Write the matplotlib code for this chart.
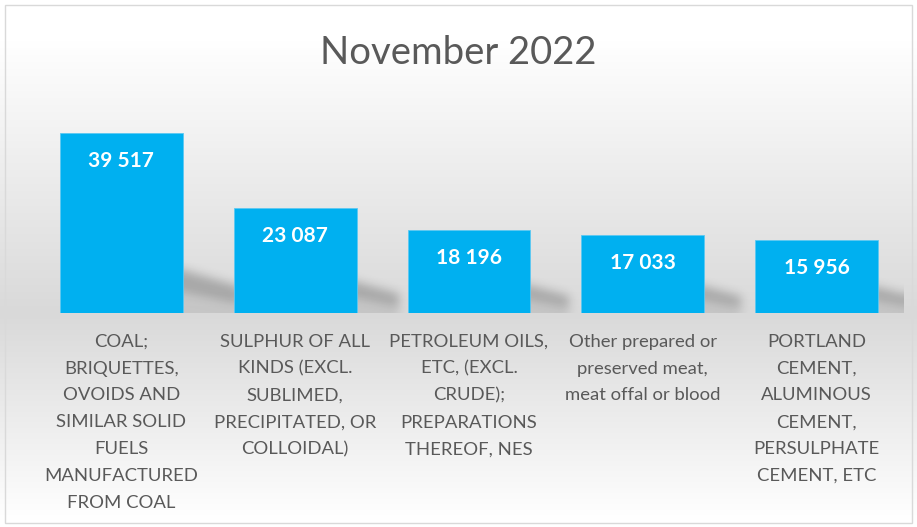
import matplotlib
matplotlib.use("Agg")
import matplotlib.pyplot as plt
import numpy as np
from matplotlib.patches import Rectangle
from matplotlib.path import Path

categories = [
    "COAL;\nBRIQUETTES,\nOVOIDS AND\nSIMILAR SOLID\nFUELS\nMANUFACTURED\nFROM COAL",
    "SULPHUR OF ALL\nKINDS (EXCL.\nSUBLIMED,\nPRECIPITATED, OR\nCOLLOIDAL)",
    "PETROLEUM OILS,\nETC, (EXCL.\nCRUDE);\nPREPARATIONS\nTHEREOF, NES",
    "Other prepared or\npreserved meat,\nmeat offal or blood",
    "PORTLAND\nCEMENT,\nALUMINOUS\nCEMENT,\nPERSULPHATE\nCEMENT, ETC",
]
values = [39517, 23087, 18196, 17033, 15956]
value_labels = ["39 517", "23 087", "18 196", "17 033", "15 956"]
title = "November 2022"

plt.rcParams['font.family'] = ['Lato', 'DejaVu Sans']

W, H = 917, 527
fig = plt.figure(figsize=(W / 100, H / 100), dpi=100)

# background gradient
bg = fig.add_axes([0, 0, 1, 1], zorder=-10)
ys_bg = np.arange(H)
yp = [0, 40, 313, 520, 527]
vp = [255, 255, 217, 255, 255]
col = np.interp(ys_bg, yp, vp) / 255.0
img = np.repeat(col[:, None], 2, axis=1)
img = np.dstack([img, img, img])
bg.imshow(img, aspect='auto', extent=[0, 1, 0, 1], origin='upper')
bg.set_xlim(0, 1); bg.set_ylim(0, 1)
bg.axis('off')
bg.add_patch(Rectangle((4.5 / W, 4 / H), 907 / W, 518 / H, fill=False,
                       ec='#D9D9D9', lw=1.0, transform=bg.transAxes))

# plot axes
base_px = 313
top_px = 108
left_px, right_px = 34.5, 903.5
ax = fig.add_axes([left_px / W, (H - base_px) / H, (right_px - left_px) / W,
                   (base_px - top_px) / H])
ax.set_facecolor('none')
ymax = 45000
n = len(values)
ax.set_xlim(-0.5, n - 0.5)
ax.set_ylim(0, ymax)
width = 123 / 174
nx = int(round(right_px - left_px))
ny = int(round(base_px - top_px))
px_x = n / nx          # data units per pixel (x)
px_y = ymax / ny       # data units per pixel (y)

x = np.arange(n)

# soft perspective shadows, rasterised and blurred
gx = -0.5 + (np.arange(nx) + 0.5) * px_x
gy = (np.arange(ny) + 0.5) * px_y
GX, GY = np.meshgrid(gx, gy)
pts = np.column_stack([GX.ravel(), GY.ravel()])
alpha = np.zeros(GX.shape)
for xi, h in zip(x, values):
    x1 = xi + width / 2
    k = 0.35 + 0.65 * h / max(values)
    xl = x1 - 10 * px_x
    dx = 58 * k * px_x
    lower = [(xl, 0), (x1 + dx, 0), (x1 + dx, 12 * k * px_y), (xl, 26 * k * px_y)]
    band = [(xl, 24 * k * px_y), (x1 + dx, 10 * k * px_y),
            (x1 + dx, 26 * k * px_y), (xl, 46 * k * px_y)]
    alpha += 0.09 * Path(lower).contains_points(pts).reshape(GX.shape)
    alpha += 0.24 * Path(band).contains_points(pts).reshape(GX.shape)

def blur(a, sigma):
    r = int(3 * sigma)
    t = np.arange(-r, r + 1)
    g = np.exp(-t ** 2 / (2 * sigma ** 2)); g /= g.sum()
    pad = np.pad(a, r, mode='edge')
    pad = np.apply_along_axis(lambda m: np.convolve(m, g, mode='same'), 1, pad)
    pad = np.apply_along_axis(lambda m: np.convolve(m, g, mode='same'), 0, pad)
    return pad[r:-r, r:-r]

alpha = np.clip(blur(alpha, 5.0), 0, 1)
shadow = np.zeros(GX.shape + (4,))
shadow[..., 3] = alpha
ax.imshow(shadow, extent=[-0.5, n - 0.5, 0, ymax], origin='lower',
          aspect='auto', zorder=1, interpolation='bilinear')

ax.bar(x, values, width=width, color='#00B0F0', edgecolor='#5CC8F2',
       linewidth=0.6, zorder=3)

for xi, h, lab in zip(x, values, value_labels):
    ax.annotate(lab, xy=(xi, h), xytext=(0, -28 * 0.72), textcoords='offset points',
                ha='center', va='center', color='white', fontsize=15,
                fontweight='bold', zorder=4)

ax.set_xticks(x)
ax.set_xticklabels(categories, fontsize=13.3, color='#595959', linespacing=1.83,
                   va='top')
ax.tick_params(axis='x', length=0, pad=15)
ax.set_yticks([])
for s_ in ax.spines.values():
    s_.set_visible(False)

fig.text(0.5, (H - 53) / H, title, ha='center', va='center', fontsize=27.5,
         color='#595959', fontweight='normal')

fig.savefig('out.png', dpi=100)
